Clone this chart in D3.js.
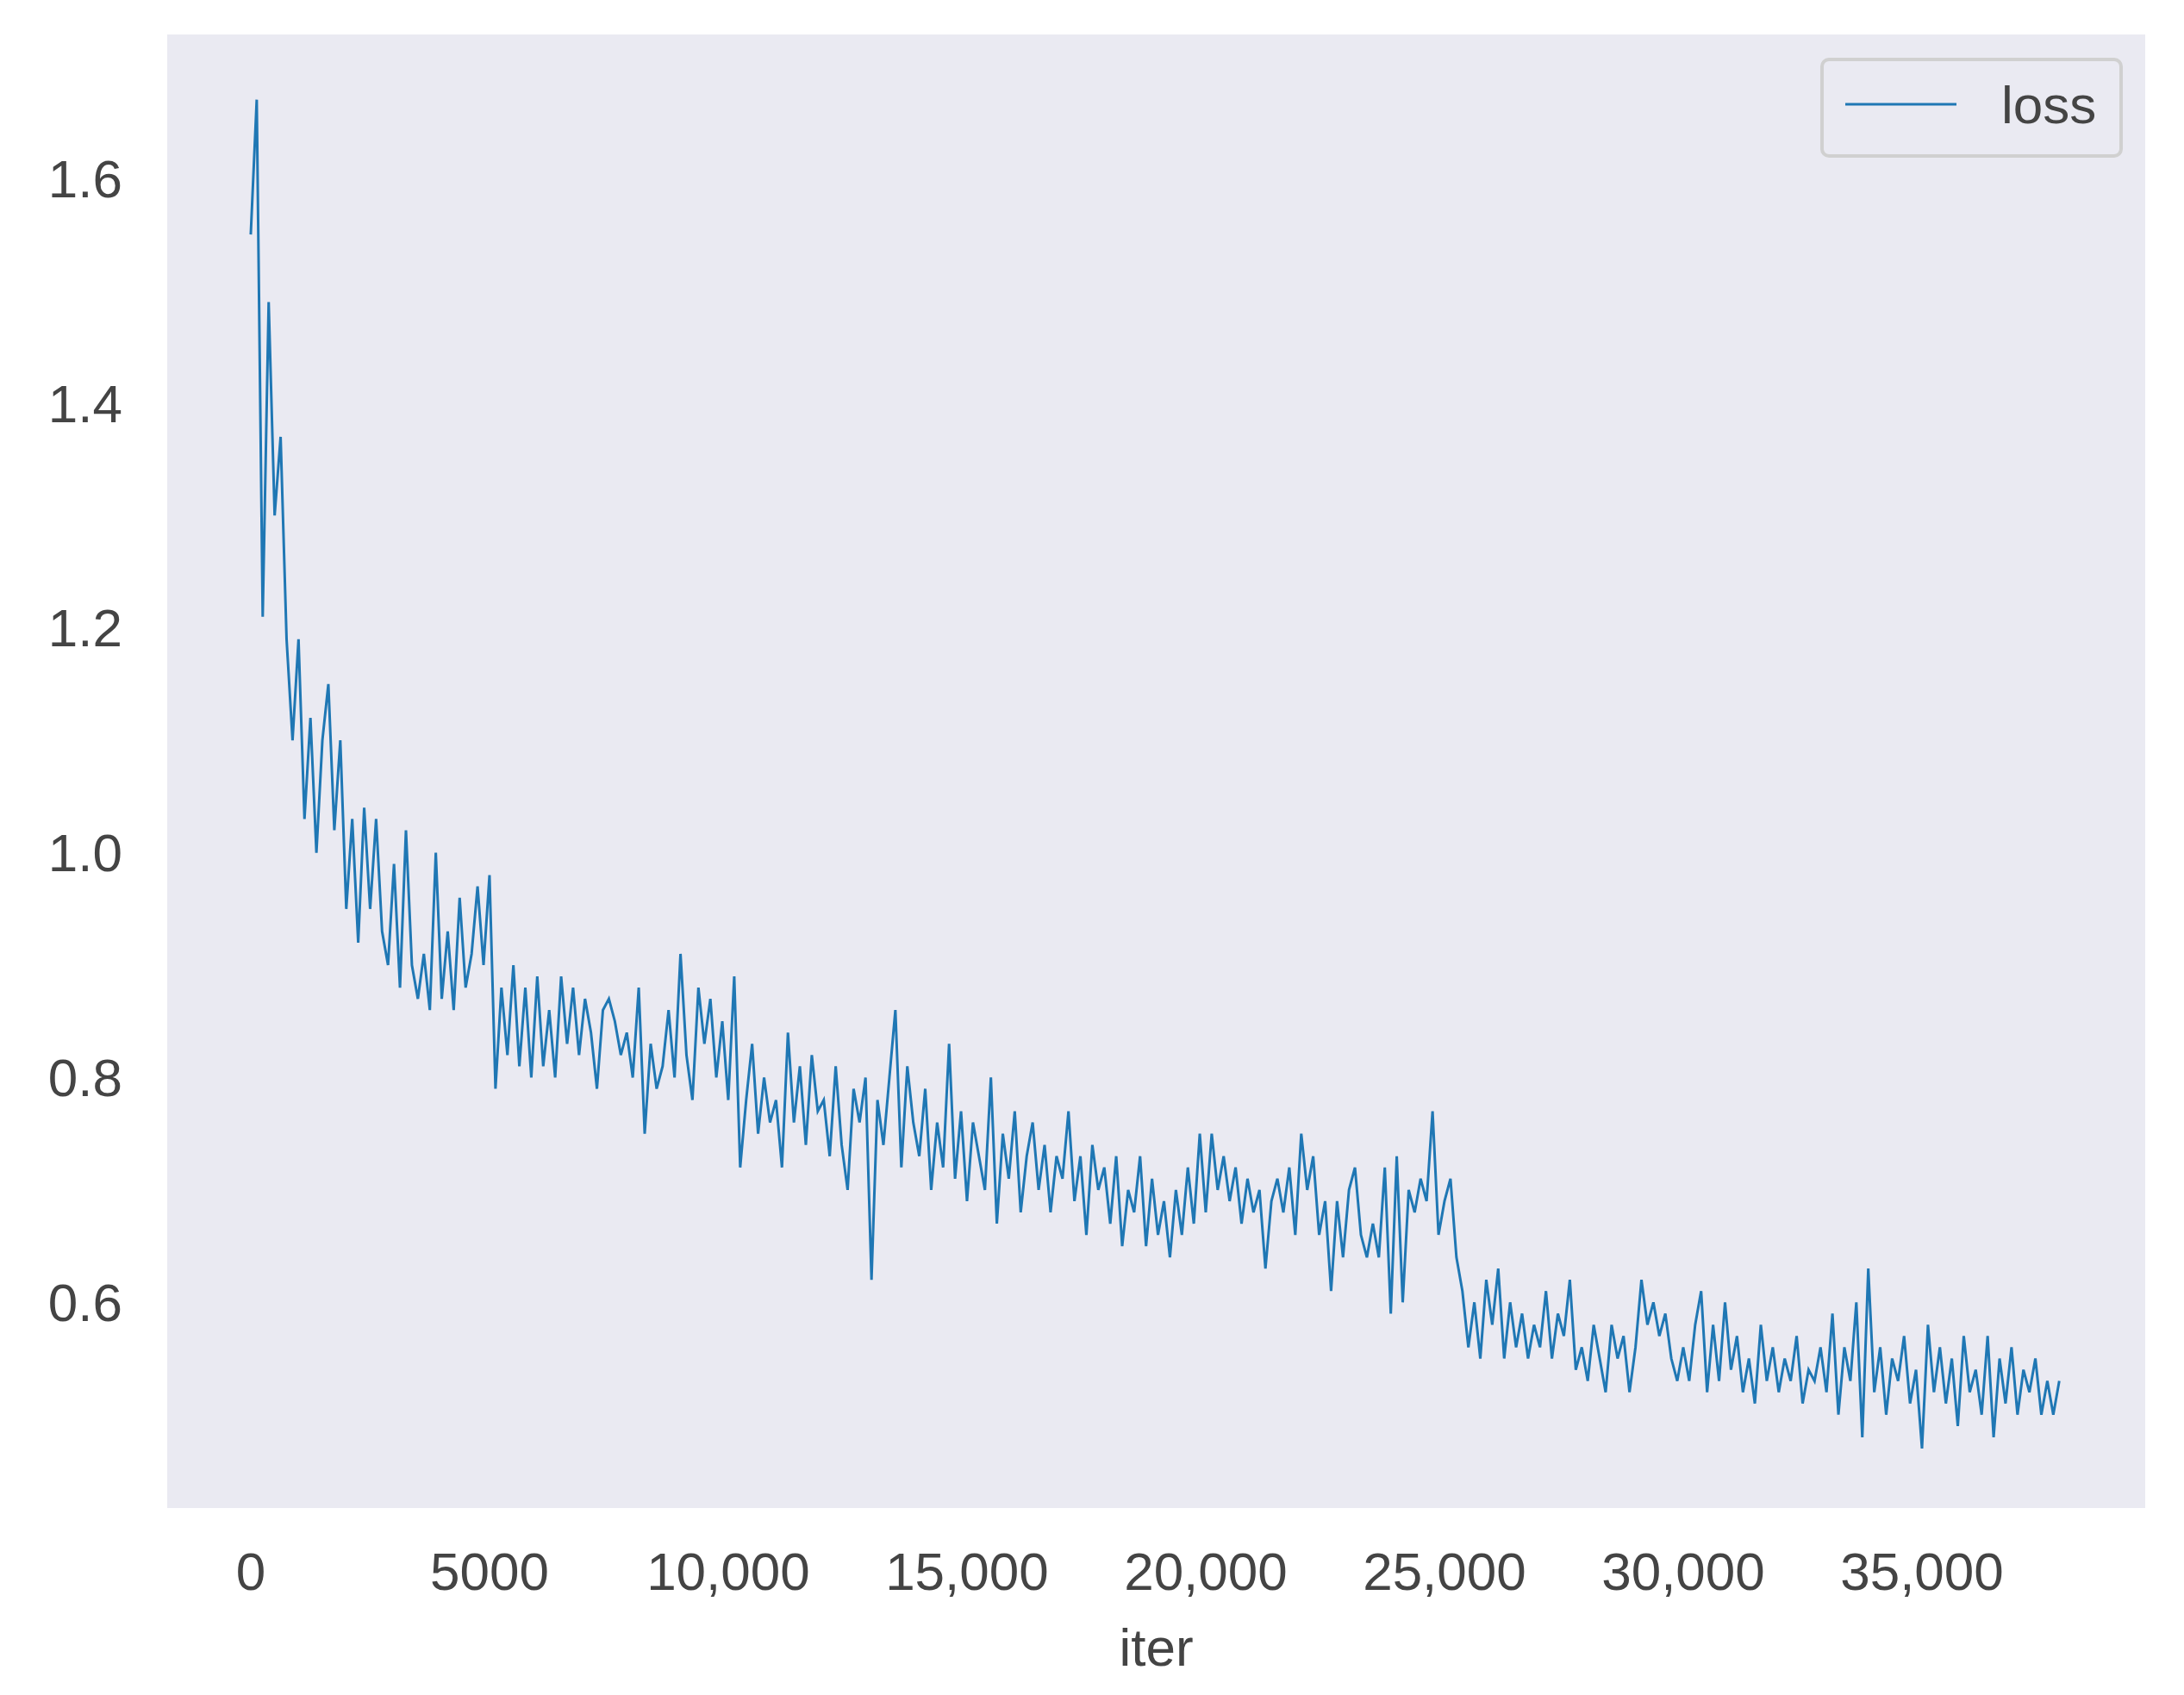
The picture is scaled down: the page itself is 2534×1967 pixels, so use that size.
<!DOCTYPE html>
<html>
<head>
<meta charset="utf-8">
<script src="https://cdn.jsdelivr.net/npm/d3@7"></script>
<style>
  body { margin: 0; background: #fff; }
  text { font-family: "Liberation Sans", Arial, sans-serif; fill: #444; }
</style>
</head>
<body>
<svg id="chart" width="2534" height="1967"></svg>
<script>
const iterStep = 125;
const lossValues = [
  1.55,1.67,1.21,1.49,1.30,1.37,1.19,1.10,
  1.19,1.03,1.12,1.00,1.10,1.15,1.02,1.10,
  0.95,1.03,0.92,1.04,0.95,1.03,0.93,0.90,
  0.99,0.88,1.02,0.90,0.87,0.91,0.86,1.00,
  0.87,0.93,0.86,0.96,0.88,0.91,0.97,0.90,
  0.98,0.79,0.88,0.82,0.90,0.81,0.88,0.80,
  0.89,0.81,0.86,0.80,0.89,0.83,0.88,0.82,
  0.87,0.84,0.79,0.86,0.87,0.85,0.82,0.84,
  0.80,0.88,0.75,0.83,0.79,0.81,0.86,0.80,
  0.91,0.82,0.78,0.88,0.83,0.87,0.80,0.85,
  0.78,0.89,0.72,0.78,0.83,0.75,0.80,0.76,
  0.78,0.72,0.84,0.76,0.81,0.74,0.82,0.77,
  0.78,0.73,0.81,0.74,0.70,0.79,0.76,0.80,
  0.62,0.78,0.74,0.80,0.86,0.72,0.81,0.76,
  0.73,0.79,0.70,0.76,0.72,0.83,0.71,0.77,
  0.69,0.76,0.73,0.70,0.80,0.67,0.75,0.71,
  0.77,0.68,0.73,0.76,0.70,0.74,0.68,0.73,
  0.71,0.77,0.69,0.73,0.66,0.74,0.70,0.72,
  0.67,0.73,0.65,0.70,0.68,0.73,0.65,0.71,
  0.66,0.69,0.64,0.70,0.66,0.72,0.67,0.75,
  0.68,0.75,0.70,0.73,0.69,0.72,0.67,0.71,
  0.68,0.70,0.63,0.69,0.71,0.68,0.72,0.66,
  0.75,0.70,0.73,0.66,0.69,0.61,0.69,0.64,
  0.70,0.72,0.66,0.64,0.67,0.64,0.72,0.59,
  0.73,0.60,0.70,0.68,0.71,0.69,0.77,0.66,
  0.69,0.71,0.64,0.61,0.56,0.60,0.55,0.62,
  0.58,0.63,0.55,0.60,0.56,0.59,0.55,0.58,
  0.56,0.61,0.55,0.59,0.57,0.62,0.54,0.56,
  0.53,0.58,0.55,0.52,0.58,0.55,0.57,0.52,
  0.56,0.62,0.58,0.60,0.57,0.59,0.55,0.53,
  0.56,0.53,0.58,0.61,0.52,0.58,0.53,0.60,
  0.54,0.57,0.52,0.55,0.51,0.58,0.53,0.56,
  0.52,0.55,0.53,0.57,0.51,0.54,0.53,0.56,
  0.52,0.59,0.50,0.56,0.53,0.60,0.48,0.63,
  0.52,0.56,0.50,0.55,0.53,0.57,0.51,0.54,
  0.47,0.58,0.52,0.56,0.51,0.55,0.49,0.57,
  0.52,0.54,0.50,0.57,0.48,0.55,0.51,0.56,
  0.50,0.54,0.52,0.55,0.50,0.53,0.50,0.53
];
const xTicks = [0, 5000, 10000, 15000, 20000, 25000, 30000, 35000];
const xTickLabels = ["0", "5000", "10,000", "15,000", "20,000", "25,000", "30,000", "35,000"];
const yTicks = [0.6, 0.8, 1.0, 1.2, 1.4, 1.6];

const data = lossValues.map((v, i) => ({ iter: i * iterStep, loss: v }));

const svg = d3.select("#chart");
const margin = { top: 40, right: 45, bottom: 217, left: 194 };
const width = 2534 - margin.left - margin.right;
const height = 1967 - margin.top - margin.bottom;
const g = svg.append("g").attr("transform", `translate(${margin.left},${margin.top})`);

const x = d3.scaleLinear().domain([-1750, 39675]).range([0, width]);
const y = d3.scaleLinear().domain([0.417, 1.728]).range([height, 0]);

g.append("rect").attr("width", width).attr("height", height).attr("fill", "#eaeaf2");

// x tick labels
g.selectAll(".xt").data(xTicks).join("text")
  .attr("x", d => x(d)).attr("y", height + 95)
  .attr("text-anchor", "middle").attr("font-size", 62)
  .text((d, i) => xTickLabels[i]);

// y tick labels
g.selectAll(".yt").data(yTicks).join("text")
  .attr("x", -52).attr("y", d => y(d)).attr("dy", "0.35em")
  .attr("text-anchor", "end").attr("font-size", 62)
  .text(d => d.toFixed(1));

g.append("text").attr("x", width / 2).attr("y", height + 183)
  .attr("text-anchor", "middle").attr("font-size", 62).text("iter");

const line = d3.line().x(d => x(d.iter)).y(d => y(d.loss));
g.append("path").datum(data).attr("d", line)
  .attr("fill", "none").attr("stroke", "#1f77b4").attr("stroke-width", 3);

// legend
const lg = svg.append("g").attr("transform", "translate(2114,69)");
lg.append("rect").attr("width", 347).attr("height", 112).attr("rx", 8)
  .attr("fill", "#eaeaf2").attr("stroke", "#d0d0d0").attr("stroke-width", 4);
lg.append("line").attr("x1", 27).attr("x2", 156).attr("y1", 52).attr("y2", 52)
  .attr("stroke", "#1f77b4").attr("stroke-width", 3);
lg.append("text").attr("x", 208).attr("y", 52).attr("dy", "0.35em")
  .attr("font-size", 62).text("loss");
</script>
</body>
</html>
